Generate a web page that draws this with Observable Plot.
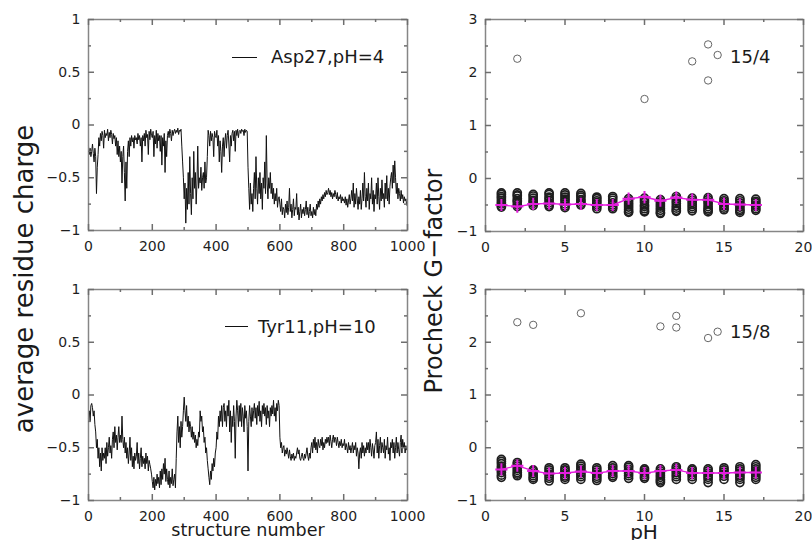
<!DOCTYPE html>
<html><head><meta charset="utf-8">
<script src="https://cdn.jsdelivr.net/npm/d3@7"></script>
<script src="https://cdn.jsdelivr.net/npm/@observablehq/plot@0.6"></script>
<style>
body{margin:0;background:#fff;}
#chart{position:relative;width:812px;height:540px;overflow:hidden;font-family:"DejaVu Sans",sans-serif;color:#222;background:#fff;}
#chart svg{position:absolute;left:0;top:0;}
.lbl{position:absolute;white-space:nowrap;line-height:1;color:#1a1a1a;}
.rot{position:absolute;white-space:nowrap;line-height:1;transform:translate(-50%,-50%) rotate(-90deg);color:#1a1a1a;}
.leg{position:absolute;height:0;border-top:1.2px solid #111;}
</style></head><body><div id="chart"></div>
<script>
// ---- data: average residue charge, sampled every 2.5 structures ----
const structureStep = 2.5;
const asp27pH4 = [
-0.2,-0.28,-0.22,-0.3,-0.25,-0.18,-0.27,-0.35,-0.22,-0.3,
-0.65,-0.4,-0.28,-0.12,-0.2,-0.08,-0.15,-0.06,-0.1,-0.22,
-0.05,-0.12,-0.08,-0.1,-0.04,-0.15,-0.07,-0.12,-0.05,-0.09,
-0.18,-0.08,-0.13,-0.1,-0.2,-0.12,-0.28,-0.15,-0.3,-0.2,
-0.35,-0.25,-0.55,-0.3,-0.2,-0.45,-0.72,-0.35,-0.6,-0.25,
-0.15,-0.3,-0.12,-0.2,-0.1,-0.16,-0.12,-0.22,-0.1,-0.14,
-0.12,-0.18,-0.08,-0.14,-0.1,-0.2,-0.12,-0.35,-0.1,-0.15,
-0.08,-0.2,-0.05,-0.12,-0.09,-0.28,-0.06,-0.14,-0.04,-0.1,
-0.12,-0.06,-0.3,-0.1,-0.18,-0.05,-0.22,-0.08,-0.15,-0.1,
-0.25,-0.1,-0.38,-0.12,-0.2,-0.08,-0.45,-0.15,-0.3,-0.1,
-0.06,-0.12,-0.04,-0.08,-0.15,-0.05,-0.1,-0.06,-0.04,-0.08,
-0.05,-0.07,-0.03,-0.09,-0.05,-0.06,-0.04,-0.2,-0.35,-0.5,
-0.7,-0.55,-0.93,-0.6,-0.8,-0.45,-0.75,-0.3,-0.65,-0.85,
-0.5,-0.7,-0.25,-0.6,-0.45,-0.75,-0.55,-0.2,-0.6,-0.5,
-0.55,-0.4,-0.62,-0.5,-0.45,-0.6,-0.35,-0.55,-0.5,-0.3,
-0.05,-0.1,-0.2,-0.06,-0.15,-0.08,-0.12,-0.3,-0.06,-0.1,
-0.12,-0.05,-0.2,-0.1,-0.35,-0.15,-0.25,-0.45,-0.2,-0.12,
-0.3,-0.15,-0.08,-0.22,-0.1,-0.05,-0.18,-0.35,-0.1,-0.2,
-0.08,-0.05,-0.15,-0.06,-0.25,-0.05,-0.1,-0.04,-0.12,-0.06,
-0.05,-0.08,-0.04,-0.06,-0.05,-0.1,-0.04,-0.07,-0.05,-0.06,
-0.4,-0.6,-0.8,-0.55,-0.75,-0.65,-0.82,-0.6,-0.45,-0.7,
-0.3,-0.6,-0.75,-0.5,-0.65,-0.45,-0.7,-0.55,-0.8,-0.5,
-0.6,-0.35,-0.65,-0.1,-0.55,-0.7,-0.5,-0.6,-0.45,-0.65,
-0.55,-0.7,-0.6,-0.75,-0.65,-0.72,-0.6,-0.78,-0.7,-0.68,
-0.75,-0.82,-0.7,-0.85,-0.78,-0.8,-0.88,-0.75,-0.83,-0.72,
-0.85,-0.78,-0.6,-0.82,-0.75,-0.88,-0.8,-0.7,-0.86,-0.78,
-0.8,-0.65,-0.85,-0.78,-0.9,-0.82,-0.75,-0.88,-0.8,-0.84,
-0.78,-0.86,-0.8,-0.72,-0.85,-0.78,-0.88,-0.82,-0.75,-0.86,
-0.82,-0.88,-0.78,-0.85,-0.8,-0.86,-0.75,-0.8,-0.72,-0.78,
-0.7,-0.75,-0.68,-0.72,-0.66,-0.7,-0.64,-0.68,-0.62,-0.66,
-0.64,-0.6,-0.66,-0.62,-0.68,-0.64,-0.7,-0.65,-0.68,-0.62,
-0.66,-0.7,-0.64,-0.72,-0.68,-0.7,-0.66,-0.74,-0.68,-0.72,
-0.7,-0.74,-0.68,-0.76,-0.7,-0.78,-0.72,-0.66,-0.75,-0.7,
-0.62,-0.72,-0.55,-0.78,-0.65,-0.75,-0.6,-0.7,-0.8,-0.68,
-0.75,-0.62,-0.8,-0.7,-0.55,-0.72,-0.45,-0.68,-0.78,-0.6,
-0.72,-0.55,-0.8,-0.65,-0.7,-0.5,-0.75,-0.62,-0.82,-0.66,
-0.7,-0.55,-0.75,-0.5,-0.68,-0.8,-0.6,-0.72,-0.52,-0.7,
-0.65,-0.78,-0.55,-0.7,-0.48,-0.72,-0.6,-0.75,-0.58,-0.5,
-0.45,-0.6,-0.38,-0.55,-0.34,-0.5,-0.65,-0.55,-0.7,-0.6,
-0.65,-0.72,-0.62,-0.7,-0.66,-0.74,-0.68,-0.72,-0.7,-0.76
];
const tyr11pH10 = [
-0.22,-0.15,-0.25,-0.1,-0.08,-0.12,-0.2,-0.15,-0.28,-0.35,
-0.5,-0.42,-0.6,-0.5,-0.68,-0.55,-0.72,-0.5,-0.62,-0.55,
-0.6,-0.5,-0.65,-0.45,-0.58,-0.5,-0.4,-0.55,-0.48,-0.6,
-0.42,-0.35,-0.5,-0.3,-0.45,-0.38,-0.52,-0.4,-0.3,-0.45,
-0.38,-0.45,-0.2,-0.42,-0.5,-0.4,-0.55,-0.45,-0.6,-0.5,
-0.65,-0.55,-0.4,-0.62,-0.5,-0.68,-0.58,-0.7,-0.55,-0.62,
-0.58,-0.45,-0.65,-0.55,-0.7,-0.6,-0.5,-0.68,-0.58,-0.65,
-0.6,-0.7,-0.55,-0.65,-0.58,-0.72,-0.62,-0.66,-0.7,-0.75,
-0.82,-0.88,-0.78,-0.9,-0.8,-0.86,-0.75,-0.84,-0.78,-0.88,
-0.72,-0.85,-0.7,-0.8,-0.65,-0.75,-0.6,-0.82,-0.7,-0.8,
-0.85,-0.72,-0.88,-0.78,-0.84,-0.7,-0.86,-0.8,-0.75,-0.88,
-0.6,-0.35,-0.2,-0.45,-0.3,-0.5,-0.25,-0.4,-0.3,-0.15,
-0.02,-0.15,-0.25,-0.1,-0.3,-0.2,-0.35,-0.25,-0.3,-0.4,
-0.3,-0.42,-0.35,-0.45,-0.38,-0.5,-0.42,-0.48,-0.35,-0.4,
-0.15,-0.25,-0.2,-0.35,-0.3,-0.45,-0.4,-0.55,-0.5,-0.62,
-0.7,-0.78,-0.85,-0.72,-0.8,-0.65,-0.72,-0.6,-0.68,-0.55,
-0.5,-0.35,-0.42,-0.2,-0.3,-0.15,-0.25,-0.1,-0.3,-0.12,
-0.08,-0.25,-0.15,-0.3,-0.1,-0.2,-0.05,-0.35,-0.15,-0.45,
-0.2,-0.3,-0.1,-0.25,-0.6,-0.2,-0.05,-0.15,-0.3,-0.1,
-0.25,-0.08,-0.3,-0.12,-0.2,-0.35,-0.1,-0.22,-0.15,-0.3,
-0.72,-0.25,-0.1,-0.2,-0.3,-0.12,-0.25,-0.15,-0.08,-0.22,
-0.12,-0.28,-0.1,-0.2,-0.06,-0.25,-0.15,-0.3,-0.1,-0.18,
-0.08,-0.2,-0.12,-0.28,-0.1,-0.22,-0.15,-0.3,-0.12,-0.2,
-0.1,-0.18,-0.05,-0.2,-0.12,-0.25,-0.08,-0.15,-0.05,-0.1,
-0.4,-0.5,-0.45,-0.55,-0.5,-0.48,-0.58,-0.52,-0.56,-0.5,
-0.55,-0.6,-0.52,-0.58,-0.62,-0.56,-0.6,-0.55,-0.62,-0.58,
-0.6,-0.55,-0.5,-0.56,-0.52,-0.6,-0.62,-0.58,-0.55,-0.6,
-0.62,-0.56,-0.6,-0.55,-0.5,-0.58,-0.62,-0.55,-0.6,-0.5,
-0.45,-0.55,-0.42,-0.5,-0.4,-0.52,-0.45,-0.55,-0.42,-0.48,
-0.5,-0.42,-0.48,-0.4,-0.52,-0.45,-0.5,-0.42,-0.46,-0.4,
-0.45,-0.4,-0.48,-0.38,-0.44,-0.5,-0.42,-0.38,-0.45,-0.4,
-0.42,-0.48,-0.4,-0.45,-0.5,-0.44,-0.48,-0.42,-0.5,-0.46,
-0.48,-0.42,-0.52,-0.46,-0.5,-0.55,-0.45,-0.52,-0.48,-0.55,
-0.5,-0.45,-0.55,-0.48,-0.52,-0.45,-0.58,-0.5,-0.55,-0.7,
-0.55,-0.5,-0.6,-0.45,-0.55,-0.48,-0.58,-0.5,-0.55,-0.45,
-0.52,-0.45,-0.55,-0.42,-0.5,-0.58,-0.46,-0.52,-0.6,-0.48,
-0.45,-0.35,-0.55,-0.42,-0.6,-0.48,-0.4,-0.55,-0.45,-0.5,
-0.55,-0.42,-0.6,-0.48,-0.52,-0.4,-0.56,-0.5,-0.62,-0.45,
-0.5,-0.42,-0.55,-0.45,-0.6,-0.5,-0.4,-0.55,-0.45,-0.52,
-0.58,-0.45,-0.38,-0.55,-0.42,-0.5,-0.45,-0.55,-0.48,-0.52
];

// ---- data: Procheck G-factor vs pH ----
const pH = [1,2,3,4,5,6,7,8,9,10,11,12,13,14,15,16,17];
const g154Stacks = [
[-0.27,-0.3,-0.34,-0.37,-0.41,-0.45,-0.48,-0.52,-0.54],
[-0.27,-0.31,-0.33,-0.38,-0.42,-0.44,-0.49,-0.53],
[-0.3,-0.33,-0.37,-0.41,-0.44,-0.47,-0.51],
[-0.27,-0.3,-0.35,-0.38,-0.42,-0.46,-0.5,-0.53],
[-0.27,-0.31,-0.35,-0.39,-0.43,-0.48,-0.52,-0.55],
[-0.28,-0.32,-0.35,-0.4,-0.43,-0.47,-0.5],
[-0.35,-0.38,-0.42,-0.45,-0.49,-0.53,-0.57],
[-0.34,-0.37,-0.41,-0.46,-0.5,-0.54,-0.57],
[-0.38,-0.42,-0.46,-0.5,-0.54,-0.58,-0.62,-0.64],
[-0.37,-0.41,-0.45,-0.5,-0.53,-0.57,-0.61,-0.63],
[-0.4,-0.44,-0.48,-0.52,-0.56,-0.6,-0.64,-0.66],
[-0.34,-0.38,-0.43,-0.47,-0.52,-0.56,-0.6,-0.62],
[-0.37,-0.41,-0.45,-0.49,-0.53,-0.57,-0.61],
[-0.36,-0.4,-0.44,-0.48,-0.53,-0.57,-0.6,-0.63],
[-0.38,-0.42,-0.45,-0.49,-0.52,-0.56,-0.59],
[-0.38,-0.42,-0.46,-0.5,-0.54,-0.58,-0.61,-0.64],
[-0.39,-0.43,-0.46,-0.5,-0.53,-0.57,-0.6]
];
const g154Mean = [-0.5,-0.53,-0.48,-0.47,-0.49,-0.48,-0.5,-0.5,-0.38,-0.35,-0.42,-0.36,-0.4,-0.4,-0.48,-0.49,-0.5];
const g154OutX = [2,10,13,14,14,14.6];
const g154OutY = [2.26,1.5,2.21,2.53,1.85,2.33];

const g158Stacks = [
[-0.22,-0.26,-0.3,-0.35,-0.39,-0.43,-0.47,-0.52,-0.56],
[-0.28,-0.31,-0.35,-0.39,-0.43,-0.47,-0.5,-0.53],
[-0.42,-0.45,-0.49,-0.53,-0.57,-0.6],
[-0.38,-0.42,-0.46,-0.5,-0.54,-0.58,-0.63],
[-0.38,-0.42,-0.45,-0.49,-0.53,-0.56,-0.6],
[-0.31,-0.35,-0.39,-0.43,-0.47,-0.51,-0.55,-0.6],
[-0.38,-0.42,-0.46,-0.5,-0.54,-0.58,-0.62],
[-0.34,-0.38,-0.42,-0.45,-0.49,-0.53,-0.56],
[-0.34,-0.37,-0.41,-0.45,-0.49,-0.53,-0.58],
[-0.4,-0.43,-0.47,-0.51,-0.55,-0.58],
[-0.4,-0.44,-0.48,-0.52,-0.56,-0.6,-0.63,-0.66],
[-0.36,-0.39,-0.43,-0.47,-0.51,-0.55,-0.6],
[-0.4,-0.43,-0.47,-0.51,-0.55,-0.6],
[-0.4,-0.44,-0.48,-0.52,-0.56,-0.6,-0.66],
[-0.38,-0.42,-0.46,-0.5,-0.54,-0.6],
[-0.36,-0.4,-0.44,-0.48,-0.52,-0.56,-0.6,-0.66],
[-0.32,-0.36,-0.4,-0.44,-0.48,-0.52,-0.56,-0.6]
];
const g158Mean = [-0.41,-0.34,-0.44,-0.49,-0.48,-0.45,-0.48,-0.44,-0.44,-0.48,-0.44,-0.42,-0.48,-0.48,-0.48,-0.47,-0.47];
const g158OutX = [2,3,6,11,12,12,14,14.6];
const g158OutY = [2.38,2.33,2.55,2.3,2.5,2.28,2.08,2.2];

// ---- tick values ----
const chargeTicks = [-1,-0.5,0,0.5,1];
const chargeMinor = [-0.75,-0.25,0.25,0.75];
const structTicks = [0,200,400,600,800,1000];
const structMinor = [100,300,500,700,900];
const gTicks = [-1,0,1,2,3];
const gMinor = [-0.5,0.5,1.5,2.5];
const pHTicks = [0,5,10,15,20];
const pHMinor = [2.5,7.5,12.5,17.5];

// ---- labels ----
const yTitleLeft = "average residue charge";
const yTitleRight = "Procheck G\u2212factor";
const xTitleLeft = "structure number";
const xTitleRight = "pH";
const legendTop = "Asp27,pH=4";
const legendBottom = "Tyr11,pH=10";
const tagTop = "15/4";
const tagBottom = "15/8";

const FRAME = "#868686";
const TICK = "#6e6e6e";
const MAGENTA = "#e21ddc";
const fmt = d3.format("");

function panel(o) {
  const H = 540 - o.mt - o.mb, W = 812 - o.ml - o.mr;
  const tick = [
    Plot.ruleX(o.xMajor, {x: d => d, stroke: TICK, strokeWidth: 1.5, insetTop: H - 6}),
    Plot.ruleX(o.xMajor, {x: d => d, stroke: TICK, strokeWidth: 1.5, insetBottom: H - 6}),
    Plot.ruleX(o.xMinor, {x: d => d, stroke: TICK, strokeWidth: 1.5, insetTop: H - 3}),
    Plot.ruleX(o.xMinor, {x: d => d, stroke: TICK, strokeWidth: 1.5, insetBottom: H - 3}),
    Plot.ruleY(o.yMajor, {y: d => d, stroke: TICK, strokeWidth: 1.5, insetRight: W - 6}),
    Plot.ruleY(o.yMajor, {y: d => d, stroke: TICK, strokeWidth: 1.5, insetLeft: W - 6}),
    Plot.ruleY(o.yMinor, {y: d => d, stroke: TICK, strokeWidth: 1.5, insetRight: W - 3}),
    Plot.ruleY(o.yMinor, {y: d => d, stroke: TICK, strokeWidth: 1.5, insetLeft: W - 3})
  ];
  return Plot.plot({
    width: 812, height: 540,
    marginTop: o.mt, marginBottom: o.mb, marginLeft: o.ml, marginRight: o.mr,
    x: {domain: o.xDomain},
    y: {domain: o.yDomain},
    style: {background: "transparent", fontFamily: "DejaVu Sans, sans-serif", fontSize: "14px", color: "#1e1e1e", overflow: "visible"},
    marks: [
      ...o.marks,
      Plot.frame({stroke: FRAME, strokeWidth: 1.5}),
      ...tick,
      Plot.axisX(o.xMajor, {tickSize: 0, tickPadding: 11, tickFormat: fmt, label: null}),
      Plot.axisY(o.yMajor, {tickSize: 0, tickPadding: 8, tickFormat: fmt, label: null})
    ]
  });
}

function stackRows(stacks) {
  const rows = [];
  stacks.forEach((vals, i) => vals.forEach(v => rows.push({pH: pH[i], g: v})));
  return rows;
}

const chart = document.getElementById("chart");

const lineMarks = (vals) => [Plot.line(vals, {x: (d, i) => i * structureStep, y: d => d, stroke: "#111", strokeWidth: 1})];

const gMarks = (stacks, mean, ox, oy) => [
  Plot.dot(stackRows(stacks), {x: "pH", y: "g", r: 4, stroke: "#1e1e1e", strokeWidth: 1.7}),
  Plot.dot(ox.map((x, i) => ({x, y: oy[i]})), {x: "x", y: "y", r: 3.7, stroke: "#555", strokeWidth: 0.9}),
  Plot.line(pH.map((p, i) => ({p, m: mean[i]})), {x: "p", y: "m", stroke: MAGENTA, strokeWidth: 1.4}),
  Plot.dot(pH.map((p, i) => ({p, m: mean[i]})), {x: "p", y: "m", symbol: "plus", r: 4, stroke: MAGENTA, strokeWidth: 2})
];

chart.append(panel({mt: 19, mb: 310, ml: 88, mr: 405, xDomain: [0, 1000], yDomain: [-1, 1],
  xMajor: structTicks, xMinor: structMinor, yMajor: chargeTicks, yMinor: chargeMinor, marks: lineMarks(asp27pH4)}));
chart.append(panel({mt: 289, mb: 40, ml: 88, mr: 405, xDomain: [0, 1000], yDomain: [-1, 1],
  xMajor: structTicks, xMinor: structMinor, yMajor: chargeTicks, yMinor: chargeMinor, marks: lineMarks(tyr11pH10)}));
chart.append(panel({mt: 19, mb: 309, ml: 485, mr: 9, xDomain: [0, 20], yDomain: [-1, 3],
  xMajor: pHTicks, xMinor: pHMinor, yMajor: gTicks, yMinor: gMinor, marks: gMarks(g154Stacks, g154Mean, g154OutX, g154OutY)}));
chart.append(panel({mt: 289, mb: 40, ml: 485, mr: 9, xDomain: [0, 20], yDomain: [-1, 3],
  xMajor: pHTicks, xMinor: pHMinor, yMajor: gTicks, yMinor: gMinor, marks: gMarks(g158Stacks, g158Mean, g158OutX, g158OutY)}));

// ---- text labels and legends ----
function addText(txt, left, baseline, fs, anchor) {
  const d = document.createElement("div");
  d.className = "lbl";
  d.textContent = txt;
  d.style.fontSize = fs + "px";
  d.style.top = (baseline - 0.846 * fs) + "px";
  d.style.left = left + "px";
  if (anchor === "middle") d.style.transform = "translateX(-50%)";
  chart.append(d);
}
function addRot(txt, cx, cy, fs) {
  const d = document.createElement("div");
  d.className = "rot";
  d.textContent = txt;
  d.style.fontSize = fs + "px";
  d.style.left = cx + "px";
  d.style.top = cy + "px";
  chart.append(d);
}
function addLegLine(x1, x2, y) {
  const d = document.createElement("div");
  d.className = "leg";
  d.style.left = x1 + "px";
  d.style.width = (x2 - x1) + "px";
  d.style.top = y + "px";
  chart.append(d);
}
addRot(yTitleLeft, 24, 279, 26);
addRot(yTitleRight, 434, 281, 24);
addText(xTitleLeft, 248, 537, 17.5, "middle");
addText(xTitleRight, 644, 539, 20, "middle");
addLegLine(232, 257, 57);
addText(legendTop, 271, 63, 18);
addLegLine(225, 248, 326);
addText(legendBottom, 258, 333, 18);
addText(tagTop, 730, 63, 18);
addText(tagBottom, 730, 338, 18);
</script></body></html>
